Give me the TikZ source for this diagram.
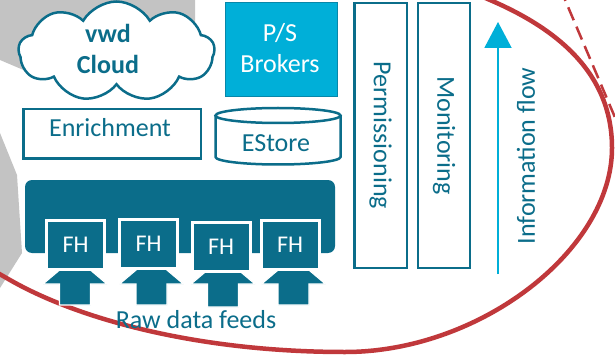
\documentclass[tikz,border=0pt]{standalone}
\usepackage{fontspec}
\setmainfont{Carlito}
\usetikzlibrary{shapes.symbols,arrows.meta}
\definecolor{teal1}{HTML}{0B6D8A}
\definecolor{cyan1}{HTML}{00AFD8}
\definecolor{red1}{HTML}{C0383B}
\definecolor{gray1}{HTML}{C3C3C3}
\begin{document}
\begin{tikzpicture}[x=1pt,y=-1pt,
  font=\fontsize{26}{31}\selectfont,
  box/.style={draw=teal1, line width=2.5pt, fill=white, inner sep=0pt},
  lbl/.style={text=teal1, inner sep=0pt},
  fhbox/.style={fill=teal1, draw=white, line width=3pt, minimum width=58pt, minimum height=49pt, inner sep=0pt, text=white, font=\fontsize{24}{28}\selectfont},
  feed/.style={fill=teal1, draw=white, line width=1.2pt},
  ring/.style={draw=red1, line width=4.5pt},
  ringdash/.style={draw=red1, line width=2.5pt, dash pattern=on 14pt off 7pt}]
\useasboundingbox (0,0) rectangle (615,358);
\fill[white] (0,0) rectangle (615,358);
\begin{scope}
  \clip (0,0) rectangle (615,358);
  % gray background pieces
  \fill[gray1] (-5,-5) -- (195,-5) -- (195,25) -- (120,50) -- (40,77) -- (0,60) -- (-5,58) -- cycle;
  \fill[gray1] (-5,130) -- (0,133) -- (17,175) -- (22,253) -- (0,288) -- (-5,290) -- cycle;
  % red ring
  \draw[ring] (-25,260) -- (10,280) .. controls (80,320) and (200,352) .. (345,352)
     .. controls (480,352) and (612,250) .. (612,148)
     .. controls (612,75) and (560,30) .. (490,0) -- (430,-26);
  \draw[ringdash] (560,-12) -- (625,141);
\end{scope}
% bus
\node[fill=teal1, rounded corners=7pt, minimum width=310pt, minimum height=73pt, inner sep=0pt] (bus) at (180,216.5) {};
% feed arrows
\foreach \cx/\by [count=\i] in {75/305, 151.5/305, 223/307, 293.5/305}{
  \draw[feed] (\cx-15.5,\by) -- (\cx-15.5,284) -- (\cx-32,284) -- (\cx,257) -- (\cx+32,284) -- (\cx+15.5,284) -- (\cx+15.5,\by) -- cycle;
}
% FH boxes
\node[fhbox] (fh1) at (75.5,245) {FH};
\node[fhbox] (fh2) at (148.5,244) {FH};
\node[fhbox] (fh3) at (221,246.5) {FH};
\node[fhbox] (fh4) at (290,245) {FH};
\node[lbl, anchor=base] (raw) at (196,328) {Raw data feeds};
% cloud
\node[cloud, cloud puffs=9, cloud puff arc=120, cloud ignores aspect, draw=teal1, fill=white, line width=2.5pt, minimum width=196pt, minimum height=100pt, inner sep=0pt] (cloud) at (116.5,51.5) {};
\node[lbl, align=center, font=\fontsize{26}{31}\selectfont\bfseries] (cloudtxt) at (108,48.5) {vwd\\Cloud};
% P/S brokers
\node[fill=cyan1, draw=teal1!60!cyan1, line width=1pt, minimum width=112pt, minimum height=94pt, inner sep=0pt] (ps) at (281.5,49.5) {};
\node[text=white, align=center, inner sep=0pt] (pstxt) at (280,48.5) {P/S\\Brokers};
% Enrichment
\node[box, minimum width=177.5pt, minimum height=49.5pt] (enr) at (112,134) {};
\node[lbl, anchor=base] (enrtxt) at (110,137) {Enrichment};
% EStore cylinder
\coordinate (es) at (278,115.5);
\filldraw[draw=teal1, fill=white, line width=2.5pt] (215.5,115.5) -- (215.5,157) arc (180:0:62.5 and 7.5) -- (340.5,115.5);
\draw[draw=teal1, line width=2.5pt] (es) ellipse (62.5 and 7.5);
\node[lbl, anchor=base] (estxt) at (276,152) {EStore};
% vertical boxes
\node[box, rotate=-90, minimum width=264.5pt, minimum height=52.5pt, text=teal1] (perm) at (380.5,135.5) {Permissioning};
\node[box, rotate=-90, minimum width=264.5pt, minimum height=52pt, text=teal1] (mon) at (444,135.5) {Monitoring};
% information flow
\coordinate (ia1) at (498,274);
\coordinate (ia2) at (498,22);
\draw[cyan1, line width=2pt, -{Triangle[width=27pt,length=26pt]}] (ia1) -- (ia2);
\node[lbl, rotate=90] (ifl) at (526,156) {Information flow};
\end{tikzpicture}
\end{document}
